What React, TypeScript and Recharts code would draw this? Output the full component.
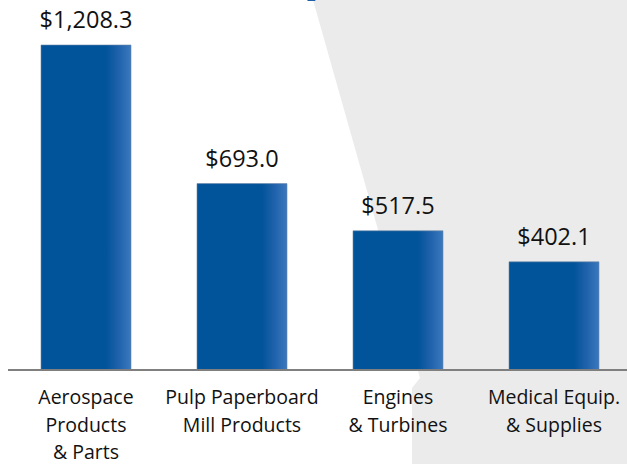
import React from 'react';
import { BarChart, Bar, XAxis, YAxis, LabelList } from 'recharts';

const categories = ['Aerospace|Products|& Parts', 'Pulp Paperboard|Mill Products', 'Engines|& Turbines', 'Medical Equip.|& Supplies'];
const values = [1208.3, 693.0, 517.5, 402.1];
const valueLabels = ['$1,208.3', '$693.0', '$517.5', '$402.1'];

const data = categories.map((name, i) => ({ name, value: values[i], label: valueLabels[i] }));

const FONT = '"Open Sans", "Noto Sans", sans-serif';

const CategoryTick = (props: any) => {
  const { x, y, payload } = props;
  const lines: string[] = String(payload.value).split('|');
  return (
    <text x={x} y={y} textAnchor="middle" fill="#111" fontSize={19.5} fontFamily={FONT}>
      {lines.map((l, i) => (
        <tspan key={i} x={x} y={y + 34 + i * 27.5}>{l}</tspan>
      ))}
    </text>
  );
};

const App: React.FC = () => {
  return (
    <div style={{ position: 'absolute', left: 0, top: 0, width: 627, height: 464, overflow: 'hidden', background: '#fff' }}>
      <svg width={627} height={464} style={{ position: 'absolute', left: 0, top: 0 }}>
        <polygon points="313,0 420,378 412,388 412,464 627,464 627,0" fill="#ebebeb" />
        <text x={272} y={-5} fill="#1f5fa6" fontSize={30} fontWeight="bold" fontFamily="'Liberation Serif', serif">
          Exports, 2013
        </text>
      </svg>
      <div style={{ position: 'absolute', left: 0, top: 0 }}>
        <BarChart width={640} height={464} data={data} margin={{ top: 45, right: 8, left: 8, bottom: 0 }}>
          <defs>
            <linearGradient id="barFill" x1="0" y1="0" x2="1" y2="0">
              <stop offset="0" stopColor="#01539a" />
              <stop offset="0.72" stopColor="#01539a" />
              <stop offset="0.86" stopColor="#1f62ab" />
              <stop offset="1" stopColor="#3b78be" />
            </linearGradient>
          </defs>
          <YAxis hide domain={[0, 1208.3]} />
          <XAxis
            dataKey="name"
            height={94}
            tickLine={false}
            tickSize={0}
            tickMargin={0}
            axisLine={{ stroke: '#7f7f7f', strokeWidth: 2 }}
            tick={<CategoryTick />}
            interval={0}
          />
          <Bar dataKey="value" barSize={90} fill="url(#barFill)" stroke="#6b86a6" strokeWidth={0.6} isAnimationActive={false}>
            <LabelList dataKey="label" position="top" offset={17} fill="#111" fontSize={23.5} fontFamily={FONT} />
          </Bar>
        </BarChart>
      </div>
    </div>
  );
};

export default App;
